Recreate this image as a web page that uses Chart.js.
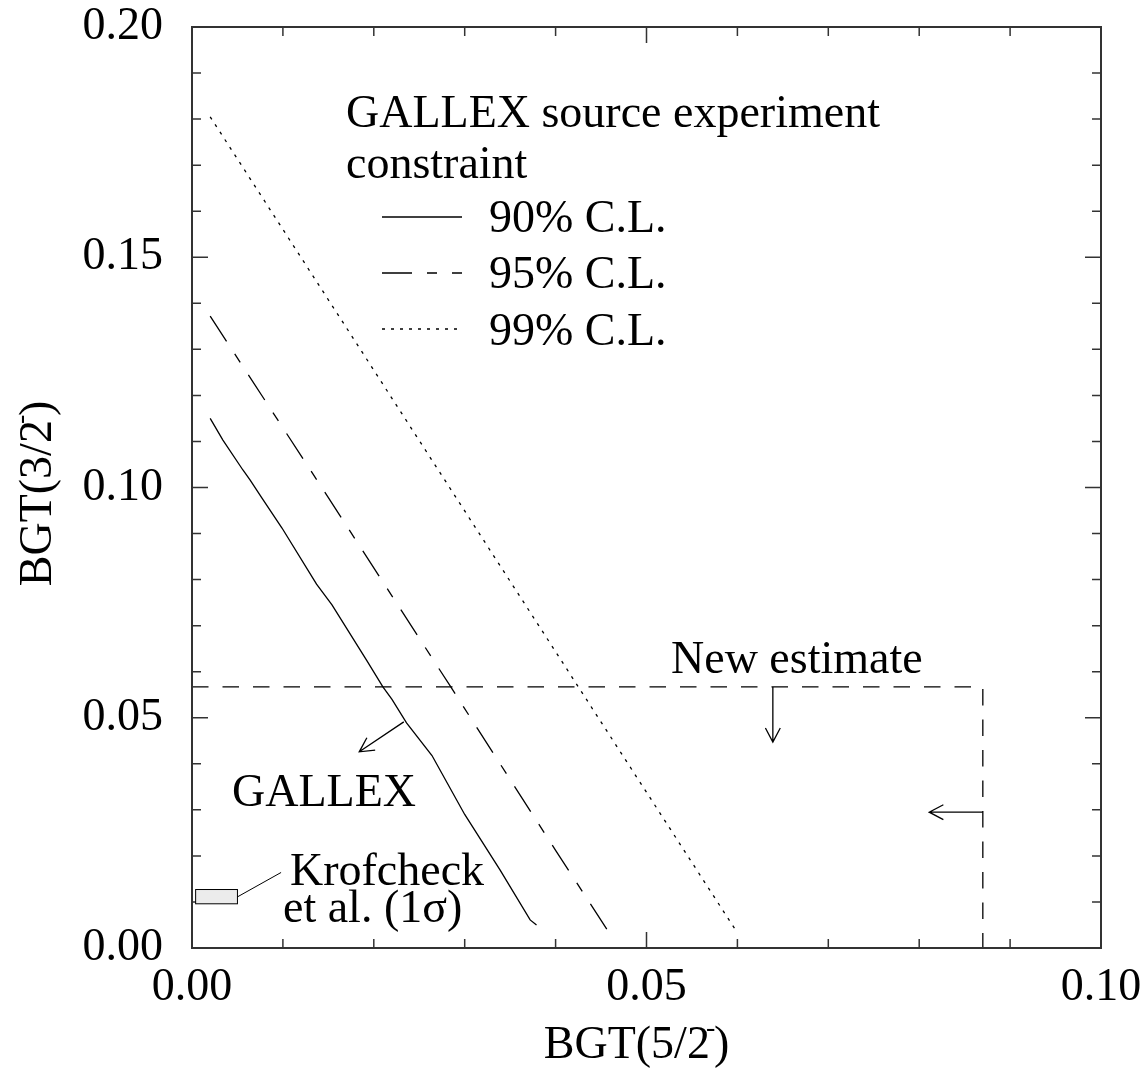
<!DOCTYPE html>
<html>
<head>
<meta charset="utf-8">
<script src="https://cdn.jsdelivr.net/npm/chart.js@4.4.1/dist/chart.umd.min.js"></script>
<style>
  html, body { margin: 0; padding: 0; background: #fff; }
  #wrap { width: 1148px; height: 1076px; }
</style>
</head>
<body>
<div id="wrap"><canvas id="bgtChart" width="1148" height="1076"></canvas></div>
<script>
// tick labels
const xTickLabels = ['0.00', '0.05', '0.10'];
const yTickLabels = ['0.00', '0.05', '0.10', '0.15', '0.20'];

// GALLEX source experiment constraint curves
const cl90X = [0.0020, 0.0034, 0.0056, 0.0064, 0.0077, 0.0099, 0.0137, 0.0154, 0.0192, 0.0210, 0.0220, 0.0236, 0.0264, 0.0300, 0.0339, 0.0372, 0.0379];
const cl90Y = [0.1150, 0.1103, 0.1038, 0.1016, 0.0977, 0.0912, 0.0790, 0.0745, 0.0625, 0.0567, 0.0540, 0.0489, 0.0418, 0.0290, 0.0169, 0.0061, 0.0050];
const cl95X = [0.0020, 0.0150, 0.0284, 0.0400, 0.0457];
const cl95Y = [0.1372, 0.0978, 0.0569, 0.0212, 0.0039];
const cl99X = [0.0020, 0.0425, 0.0600];
const cl99Y = [0.1805, 0.0567, 0.0033];

// new estimate bounds
const estX = [0.0, 0.0870, 0.0870];
const estY = [0.0567, 0.0567, 0.0];

// Krofcheck et al. (1 sigma) box and its pointer line
const krofX = [0.0004, 0.0050];
const krofY = [0.0096, 0.0127];
const krofLineX = [0.0050, 0.0098];
const krofLineY = [0.0111, 0.0164];

// arrows [x0, y0, x1, y1]
const gallexArrow = [0.0233, 0.0491, 0.0184, 0.0426];
const downArrow = [0.0639, 0.0567, 0.0639, 0.0447];
const leftArrow = [0.0870, 0.0295, 0.0811, 0.0295];

const serif = "'Liberation Serif', 'Times New Roman', serif";
const toPoints = (xs, ys) => xs.map((x, i) => ({ x: x, y: ys[i] }));

function lineSet(label, xs, ys, dash) {
    return {
        label: label,
        data: toPoints(xs, ys),
        showLine: true,
        borderColor: '#000',
        borderWidth: 1.3,
        borderDash: dash,
        pointRadius: 0,
        fill: false,
        tension: 0
    };
}

function drawArrow(ctx, x0, y0, x1, y1) {
    const ang = Math.atan2(y1 - y0, x1 - x0);
    const len = 16, spread = Math.PI / 6.5;
    ctx.beginPath();
    ctx.moveTo(x0, y0);
    ctx.lineTo(x1, y1);
    ctx.moveTo(x1 - len * Math.cos(ang - spread), y1 - len * Math.sin(ang - spread));
    ctx.lineTo(x1, y1);
    ctx.lineTo(x1 - len * Math.cos(ang + spread), y1 - len * Math.sin(ang + spread));
    ctx.stroke();
}

// draws "BGT(5/2" + superscript minus + ")"
function drawBgtTitle(ctx, num, cx, cy) {
    const base = 'BGT(' + num + '/2';
    ctx.font = '46px ' + serif;
    const wBase = ctx.measureText(base).width;
    const wClose = ctx.measureText(')').width;
    const total = wBase + 4 + wClose;
    let x = cx - total / 2;
    ctx.textAlign = 'left';
    ctx.textBaseline = 'alphabetic';
    ctx.fillText(base, x, cy);
    ctx.font = '28px ' + serif;
    ctx.fillText('-', x + wBase - 4, cy - 22);
    ctx.font = '46px ' + serif;
    ctx.fillText(')', x + wBase + 4, cy);
}

const framePlugin = {
    id: 'framePlugin',
    afterDraw(chart) {
        const ctx = chart.ctx;
        const a = chart.chartArea;
        const xs = chart.scales.x, ys = chart.scales.y;
        ctx.save();

        // frame
        ctx.strokeStyle = '#333';
        ctx.lineWidth = 2;
        ctx.strokeRect(a.left, a.top, a.right - a.left, a.bottom - a.top);

        // inward ticks on all four sides
        ctx.lineWidth = 1.5;
        ctx.beginPath();
        xs.ticks.forEach(t => {
            const px = xs.getPixelForValue(t.value);
            const l = xTickLabels.includes(t.value.toFixed(2)) ? 16 : 9;
            ctx.moveTo(px, a.bottom); ctx.lineTo(px, a.bottom - l);
            ctx.moveTo(px, a.top); ctx.lineTo(px, a.top + l);
        });
        ys.ticks.forEach(t => {
            const py = ys.getPixelForValue(t.value);
            const l = yTickLabels.includes(t.value.toFixed(2)) ? 16 : 9;
            ctx.moveTo(a.left, py); ctx.lineTo(a.left + l, py);
            ctx.moveTo(a.right, py); ctx.lineTo(a.right - l, py);
        });
        ctx.stroke();

        // Krofcheck box
        const bx0 = xs.getPixelForValue(krofX[0]), bx1 = xs.getPixelForValue(krofX[1]);
        const by0 = ys.getPixelForValue(krofY[1]), by1 = ys.getPixelForValue(krofY[0]);
        ctx.fillStyle = '#ececec';
        ctx.fillRect(bx0, by0, bx1 - bx0, by1 - by0);
        ctx.strokeStyle = '#000';
        ctx.lineWidth = 1;
        ctx.strokeRect(bx0, by0, bx1 - bx0, by1 - by0);
        ctx.beginPath();
        ctx.moveTo(xs.getPixelForValue(krofLineX[0]), ys.getPixelForValue(krofLineY[0]));
        ctx.lineTo(xs.getPixelForValue(krofLineX[1]), ys.getPixelForValue(krofLineY[1]));
        ctx.stroke();

        // arrows
        ctx.lineWidth = 1.3;
        [gallexArrow, downArrow, leftArrow].forEach(ar => {
            drawArrow(ctx, xs.getPixelForValue(ar[0]), ys.getPixelForValue(ar[1]),
                xs.getPixelForValue(ar[2]), ys.getPixelForValue(ar[3]));
        });

        // legend
        ctx.fillStyle = '#000';
        ctx.font = '46px ' + serif;
        ctx.textAlign = 'left';
        ctx.textBaseline = 'alphabetic';
        ctx.fillText('GALLEX source experiment', 346, 127);
        ctx.fillText('constraint', 346, 178);
        const legendRows = [
            { text: '90% C.L.', dash: [], y: 217, base: 232 },
            { text: '95% C.L.', dash: [30, 15, 10, 15], y: 273, base: 288 },
            { text: '99% C.L.', dash: [3, 6], y: 329, base: 345 }
        ];
        legendRows.forEach(r => {
            ctx.setLineDash(r.dash);
            ctx.beginPath();
            ctx.moveTo(382, r.y);
            ctx.lineTo(462, r.y);
            ctx.stroke();
            ctx.setLineDash([]);
            ctx.fillText(r.text, 489, r.base);
        });

        // annotations
        ctx.fillText('New estimate', 671, 673);
        ctx.fillText('GALLEX', 232, 806);
        ctx.fillText('Krofcheck', 290, 885);
        ctx.fillText('et al. (1\u03c3)', 283, 922);

        // axis titles
        drawBgtTitle(ctx, '5', (a.left + a.right) / 2 - 10, 1058);
        ctx.save();
        ctx.translate(51, (a.top + a.bottom) / 2 + 6);
        ctx.rotate(-Math.PI / 2);
        drawBgtTitle(ctx, '3', 0, 0);
        ctx.restore();

        ctx.restore();
    }
};

const ctx = document.getElementById('bgtChart').getContext('2d');
new Chart(ctx, {
    type: 'scatter',
    data: {
        datasets: [
            lineSet('90% C.L.', cl90X, cl90Y, []),
            lineSet('95% C.L.', cl95X, cl95Y, [30, 15, 10, 15]),
            lineSet('99% C.L.', cl99X, cl99Y, [3, 6]),
            lineSet('New estimate', estX, estY, [16.5, 14])
        ]
    },
    options: {
        responsive: false,
        devicePixelRatio: 1,
        animation: false,
        layout: { padding: { left: 0, right: 47, top: 27, bottom: 0 } },
        plugins: {
            legend: { display: false },
            tooltip: { enabled: false }
        },
        scales: {
            x: {
                type: 'linear',
                min: 0,
                max: 0.1,
                afterFit: scale => {
                    scale.height = 128;
                    scale.paddingLeft = 0;
                    scale.paddingRight = 0;
                },
                border: { display: false },
                grid: { drawOnChartArea: false, drawTicks: false },
                ticks: {
                    stepSize: 0.01,
                    autoSkip: false,
                    maxRotation: 0,
                    padding: 17,
                    color: '#000',
                    font: { family: serif, size: 46, lineHeight: 1 },
                    callback: v => {
                        const lbl = Number(v).toFixed(2);
                        return xTickLabels.includes(lbl) ? lbl : '';
                    }
                }
            },
            y: {
                type: 'linear',
                min: 0,
                max: 0.2,
                afterFit: scale => {
                    scale.width = 192;
                    scale.paddingTop = 0;
                    scale.paddingBottom = 0;
                },
                border: { display: false },
                grid: { drawOnChartArea: false, drawTicks: false },
                ticks: {
                    stepSize: 0.01,
                    autoSkip: false,
                    padding: 29,
                    color: '#000',
                    font: { family: serif, size: 46, lineHeight: 1 },
                    callback: v => {
                        const lbl = Number(v).toFixed(2);
                        return yTickLabels.includes(lbl) ? lbl : '';
                    }
                }
            }
        }
    },
    plugins: [framePlugin]
});
</script>
</body>
</html>
